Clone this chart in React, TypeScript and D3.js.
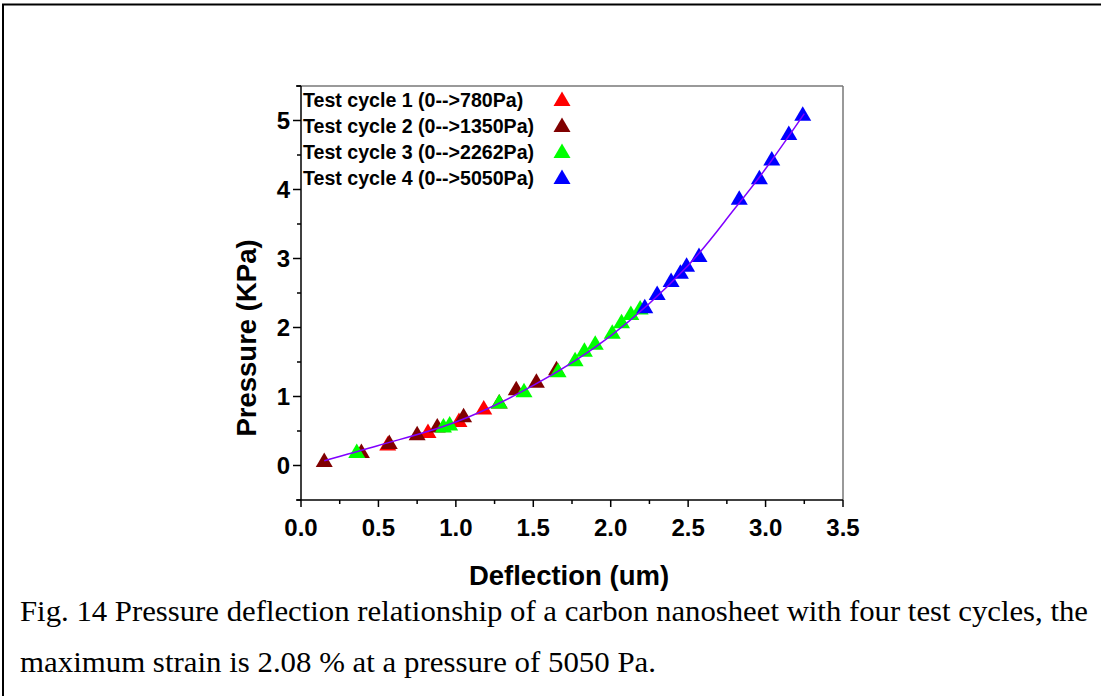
import React from "react";
import * as d3 from "d3";

// ---- data ----
const cycle1X = [0.56, 0.82, 1.02, 1.18];
const cycle1Y = [0.29, 0.47, 0.63, 0.81];

const cycle2X = [0.15, 0.39, 0.57, 0.75, 0.88, 1.05, 1.28, 1.39, 1.52, 1.65];
const cycle2Y = [0.05, 0.18, 0.31, 0.44, 0.55, 0.70, 0.90, 1.09, 1.20, 1.38];

const cycle3X = [0.36, 0.92, 0.96, 1.28, 1.44, 1.66, 1.77, 1.83, 1.90, 2.01, 2.07, 2.13, 2.19];
const cycle3Y = [0.18, 0.55, 0.58, 0.90, 1.06, 1.35, 1.51, 1.65, 1.75, 1.91, 2.06, 2.18, 2.26];

const cycle4X = [2.22, 2.30, 2.39, 2.45, 2.49, 2.57, 2.83, 2.96, 3.04, 3.15, 3.24];
const cycle4Y = [2.28, 2.47, 2.66, 2.78, 2.88, 3.02, 3.85, 4.15, 4.42, 4.79, 5.07];

const fitX = [0.15, 0.5, 1.0, 1.5, 2.0, 2.5, 2.8, 3.0, 3.25];
const fitY = [0.07, 0.29, 0.63, 1.16, 1.88, 2.9, 3.72, 4.3, 5.1];

const seriesNames = [
  "Test cycle 1 (0-->780Pa)",
  "Test cycle 2 (0-->1350Pa)",
  "Test cycle 3 (0-->2262Pa)",
  "Test cycle 4 (0-->5050Pa)",
];
const seriesColors = ["#ff0000", "#800000", "#00ff00", "#0000ff"];

const xTickValues = [0, 0.5, 1.0, 1.5, 2.0, 2.5, 3.0, 3.5];
const yTickValues = [0, 1, 2, 3, 4, 5];

const captionLines = [
  "Fig. 14 Pressure deflection relationship of a carbon nanosheet with four test cycles, the",
  "maximum strain is 2.08 % at a pressure of 5050 Pa.",
];

// ---- layout ----
const W = 1101;
const H = 696;
const left = 301;
const right = 843;
const top = 86;
const bottom = 500;

export default function App() {
  const x = d3.scaleLinear().domain([0, 3.5]).range([left, right]);
  const y = d3.scaleLinear().domain([-0.5, 5.5]).range([bottom, top]);

  const series = [
    { xs: cycle1X, ys: cycle1Y },
    { xs: cycle2X, ys: cycle2Y },
    { xs: cycle3X, ys: cycle3Y },
    { xs: cycle4X, ys: cycle4Y },
  ];

  const tri = "M0,-9.5L8.5,5L-8.5,5Z";

  const line = d3
    .line<number>()
    .x((_, i) => x(fitX[i]))
    .y((_, i) => y(fitY[i]))
    .curve(d3.curveCatmullRom.alpha(0.5));

  const xMinor = d3.range(0, 15).map((i) => i * 0.25).filter((v) => !xTickValues.includes(v));
  const yMinor = d3.range(-1, 12).map((i) => i * 0.5).filter((v) => !yTickValues.includes(v));

  const sans = "'Liberation Sans', Arial, sans-serif";
  const serif = "'Liberation Serif', 'Times New Roman', serif";

  return (
    <svg
      width={W}
      height={H}
      style={{ position: "absolute", left: 0, top: 0, background: "#fff" }}
    >
      {/* outer figure frame */}
      <rect x={3} y={4.5} width={1120} height={720} fill="none" stroke="#000" strokeWidth={2} />

      {/* top & right frame lines */}
      <line x1={left} x2={right} y1={top} y2={top} stroke="#777" strokeWidth={1.5} />
      <line x1={right} x2={right} y1={top} y2={bottom} stroke="#777" strokeWidth={1.5} />

      {/* markers */}
      {series.map((s, si) =>
        s.xs.map((xv, i) => (
          <path
            key={`m${si}-${i}`}
            d={tri}
            transform={`translate(${x(xv)},${y(s.ys[i])})`}
            fill={seriesColors[si]}
          />
        ))
      )}

      {/* fit curve */}
      <path d={line(fitX) || ""} fill="none" stroke="#8000ff" strokeWidth={1.5} />

      {/* axes */}
      <line x1={left} x2={left} y1={top} y2={bottom} stroke="#000" strokeWidth={1.5} />
      <line x1={left - 5} x2={right} y1={bottom} y2={bottom} stroke="#000" strokeWidth={1.5} />
      <line x1={left - 5} x2={left} y1={top} y2={top} stroke="#000" strokeWidth={1.5} />

      {yTickValues.map((v) => (
        <g key={`yt${v}`}>
          <line x1={left - 8} x2={left} y1={y(v)} y2={y(v)} stroke="#000" strokeWidth={1.5} />
          <text
            x={left - 11}
            y={y(v) + 8.5}
            textAnchor="end"
            fontFamily={sans}
            fontWeight="bold"
            fontSize={24}
          >
            {v}
          </text>
        </g>
      ))}
      {yMinor.map((v) => (
        <line key={`ym${v}`} x1={left - 4} x2={left} y1={y(v)} y2={y(v)} stroke="#000" strokeWidth={1.5} />
      ))}

      {xTickValues.map((v) => (
        <g key={`xt${v}`}>
          <line x1={x(v)} x2={x(v)} y1={bottom} y2={bottom + 7} stroke="#000" strokeWidth={1.5} />
          <text
            x={x(v)}
            y={bottom + 36}
            textAnchor="middle"
            fontFamily={sans}
            fontWeight="bold"
            fontSize={24}
          >
            {d3.format(".1f")(v)}
          </text>
        </g>
      ))}
      {xMinor.map((v) => (
        <line key={`xm${v}`} x1={x(v)} x2={x(v)} y1={bottom} y2={bottom + 4} stroke="#000" strokeWidth={1.5} />
      ))}

      {/* axis titles */}
      <text
        x={569}
        y={585}
        textAnchor="middle"
        fontFamily={sans}
        fontWeight="bold"
        fontSize={27.5}
      >
        Deflection (um)
      </text>
      <text
        transform={`translate(256,338) rotate(-90)`}
        textAnchor="middle"
        fontFamily={sans}
        fontWeight="bold"
        fontSize={27.5}
      >
        Pressure (KPa)
      </text>

      {/* legend */}
      {seriesNames.map((n, i) => (
        <g key={`lg${i}`}>
          <text
            x={303}
            y={107 + i * 26}
            fontFamily={sans}
            fontWeight="bold"
            fontSize={19.6}
          >
            {n}
          </text>
          <path d={tri} transform={`translate(562,${101 + i * 26})`} fill={seriesColors[i]} />
        </g>
      ))}

      {/* caption */}
      <text
        x={20}
        y={621}
        fontFamily={serif}
        fontSize={28.5}
        textLength={1068}
        lengthAdjust="spacingAndGlyphs"
      >
        {captionLines[0]}
      </text>
      <text
        x={20}
        y={672}
        fontFamily={serif}
        fontSize={28.5}
        textLength={636}
        lengthAdjust="spacingAndGlyphs"
      >
        {captionLines[1]}
      </text>
    </svg>
  );
}
